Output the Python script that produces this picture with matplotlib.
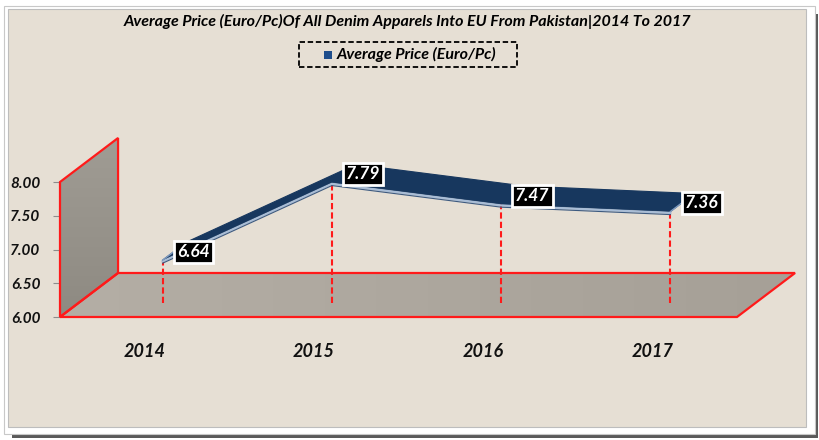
import matplotlib.pyplot as plt
import numpy as np
from matplotlib.colors import LinearSegmentedColormap
from matplotlib.patches import Polygon, Rectangle

years = ["2014", "2015", "2016", "2017"]
avg_price = [6.64, 7.79, 7.47, 7.36]
y_ticks = [6.00, 6.50, 7.00, 7.50, 8.00]
title = "Average Price (Euro/Pc)Of All Denim Apparels Into EU From Pakistan|2014 To 2017"
series_name = "Average Price (Euro/Pc)"

W, H = 820, 440
FONT = ["Lato", "DejaVu Sans"]
NAVY = "#17375E"
RED = "#FF1A1A"
BEIGE = "#E6DFD4"

# depth of the fake 3D box, in data units (category, value)
DX, DY = 0.343, 0.652
F_FRONT, F_BACK = 0.31, 0.72


def px(x, y):
    """pixel (from top-left) -> figure fraction"""
    return x / W, 1 - y / H


def shaded_face(ax, xy, colors, vertical):
    """fill a polygon with a soft gradient, outlined in red"""
    xs, ys = zip(*xy)
    grad = np.linspace(0, 1, 100)
    grad = grad.reshape(-1, 1) if vertical else grad.reshape(1, -1)
    img = ax.imshow(grad, extent=(min(xs), max(xs), min(ys), max(ys)), origin="lower",
                    cmap=LinearSegmentedColormap.from_list("face", colors),
                    aspect="auto", zorder=1)
    img.set_clip_box(ax.figure.bbox)
    img.set_clip_path(Polygon(xy, closed=True, transform=ax.transData))
    ax.add_patch(Polygon(xy, closed=True, facecolor="none", edgecolor=RED, lw=1.6,
                         zorder=3, clip_on=False))


fig = plt.figure(figsize=(W / 100, H / 100), dpi=100)
fig.patch.set_facecolor("white")

# chart frame with shadow
for xy, w, h, fc, ec in [((12, 438), 806, 424, "#5A5A5A", "none"),
                         ((4, 434), 811, 428, "white", "#C8C8C8"),
                         ((8, 427), 798, 418, BEIGE, "#BDBDBD")]:
    fig.patches.append(Rectangle(px(*xy), w / W, h / H, transform=fig.transFigure,
                                 facecolor=fc, edgecolor=ec, lw=0.8, zorder=-5))

# front plane of the box
l, b = px(60, 317)
ax = fig.add_axes([l, b, 677 / W, 135 / H])
ax.patch.set_visible(False)
for s in ax.spines.values():
    s.set_visible(False)

x = np.arange(len(years))
v = np.array(avg_price)

# wall and floor
shaded_face(ax, [(-0.5, 6), (-0.5, 8), (-0.5 + DX, 8 + DY), (-0.5 + DX, 6 + DY)],
            ["#8E8A82", "#A09C94"], vertical=True)
shaded_face(ax, [(-0.5, 6), (3.5, 6), (3.5 + DX, 6 + DY), (-0.5 + DX, 6 + DY)],
            ["#B4AEA5", "#A6A097"], vertical=False)
ax.set_xlim(-0.5, 3.5)
ax.set_ylim(6, 8)

# ribbon line
xf, vf = x + F_FRONT * DX, v + F_FRONT * DY
xb, vb = x + F_BACK * DX, v + F_BACK * DY
ax.add_patch(Polygon(np.column_stack([np.r_[xf, xb[::-1]], np.r_[vf, vb[::-1]]]),
                     closed=True, facecolor=NAVY, edgecolor=NAVY, lw=0.8, zorder=5, clip_on=False))
ax.plot(xf, vf - 0.02, color="#A9BDD6", lw=1.6, zorder=6, clip_on=False)
ax.plot(xf, vf - 0.045, color="#3D5A80", lw=0.8, zorder=6, clip_on=False)
for i in (0, len(x) - 1):
    ax.plot([xf[i], xb[i]], [vf[i], vb[i]], color="#7F9BC0", lw=1.0, zorder=6, clip_on=False)

# drop lines
ax.vlines(xf, 6 + F_FRONT * DY, vf, colors=RED, linestyles=(0, (3, 1.5)), lw=1.5, zorder=4)

# data labels
for xi, vi, val in zip(xf, vf, avg_price):
    ax.annotate(f"{val:.2f}", (xi, vi), xytext=(22.5, 6), textcoords="offset points",
                ha="center", va="center", color="white", fontsize=12.5, fontweight="bold",
                fontstyle="italic", family=FONT, zorder=8, annotation_clip=False,
                bbox=dict(boxstyle="square,pad=0.18", facecolor="black", edgecolor="white", lw=2))

# axes ticks
ax.set_yticks(y_ticks)
ax.set_yticklabels([f"{t:.2f}" for t in y_ticks], fontsize=11, fontweight="bold",
                   fontstyle="italic", family=FONT, color="#111111")
ax.tick_params(axis="y", length=5, color="#8C8C8C", pad=9)
ax.set_xticks(x)
ax.set_xticklabels(years, fontsize=13, fontweight="bold", fontstyle="italic",
                   family=FONT, color="#111111")
ax.tick_params(axis="x", length=0, pad=19)

# title
fig.text(*px(407, 21), title, ha="center", va="center", fontsize=11.5, fontweight="bold",
         fontstyle="italic", family=FONT, color="black")

# legend (dashed box)
fig.patches.append(Rectangle(px(299, 67), 218 / W, 25 / H, transform=fig.transFigure,
                             facecolor="none", edgecolor="black", lw=1.3, linestyle=(0, (3, 1.5))))
fig.patches.append(Rectangle(px(324, 59), 8 / W, 8 / H, transform=fig.transFigure,
                             facecolor="#1F4E8C", edgecolor="none"))
fig.text(*px(337, 54), series_name, ha="left", va="center", fontsize=11.5, fontweight="bold",
         fontstyle="italic", family=FONT, color="black")

fig.savefig("out.png", dpi=100)
